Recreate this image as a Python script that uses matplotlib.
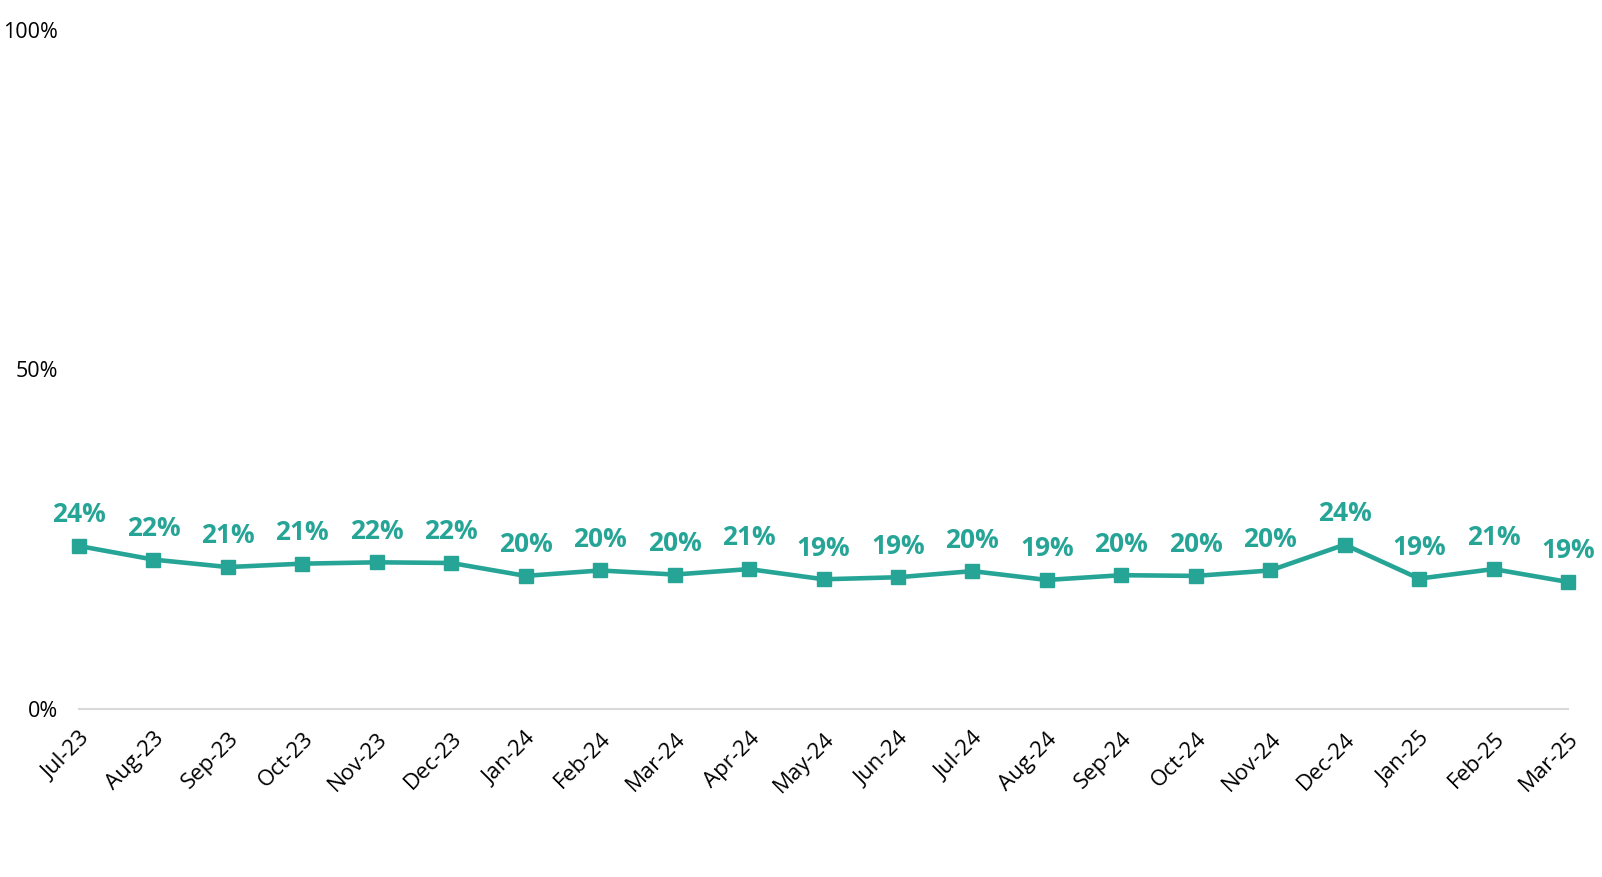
import matplotlib.pyplot as plt
from matplotlib.ticker import FixedLocator

plt.rcParams['font.family'] = ['Open Sans', 'DejaVu Sans']

# Months and share values (%)
months = ['Jul-23', 'Aug-23', 'Sep-23', 'Oct-23', 'Nov-23', 'Dec-23',
          'Jan-24', 'Feb-24', 'Mar-24', 'Apr-24', 'May-24', 'Jun-24',
          'Jul-24', 'Aug-24', 'Sep-24', 'Oct-24', 'Nov-24', 'Dec-24',
          'Jan-25', 'Feb-25', 'Mar-25']
values = [24.0, 22.0, 20.9, 21.4, 21.6, 21.5,
          19.6, 20.4, 19.8, 20.6, 19.1, 19.4,
          20.3, 19.0, 19.7, 19.6, 20.4, 24.2,
          19.2, 20.6, 18.7]
y_ticks = [0, 50, 100]

teal = '#26a597'

fig = plt.figure(figsize=(16.02, 8.77), dpi=100)
ax = fig.add_axes([0.0493, 0.1916, 0.9295, 0.7742])

x = list(range(len(months)))
ax.plot(x, values, color=teal, linewidth=3.3, marker='s', markersize=10,
        solid_joinstyle='miter', clip_on=False)

# data labels above each point
for xi, v in zip(x, values):
    ax.annotate(f'{round(v)}%', (xi, v), xytext=(0, 17), textcoords='offset points',
                ha='center', va='baseline', fontsize=19, fontweight='bold', color=teal)

ax.set_xlim(0, len(months) - 1)
ax.set_ylim(0, 100)
ax.set_xticks(x)
ax.set_xticklabels(months, rotation=45, ha='right', rotation_mode='anchor', fontsize=16)
ax.yaxis.set_major_locator(FixedLocator(y_ticks))
ax.set_yticklabels([f'{t}%' for t in y_ticks], fontsize=15.5)
ax.tick_params(axis='x', length=0, pad=14)
ax.tick_params(axis='y', length=0, pad=15)

for side in ['top', 'right', 'left']:
    ax.spines[side].set_visible(False)
ax.spines['bottom'].set_color('#d9d9d9')
ax.spines['bottom'].set_linewidth(1.5)

fig.savefig('out.png', dpi=100)
